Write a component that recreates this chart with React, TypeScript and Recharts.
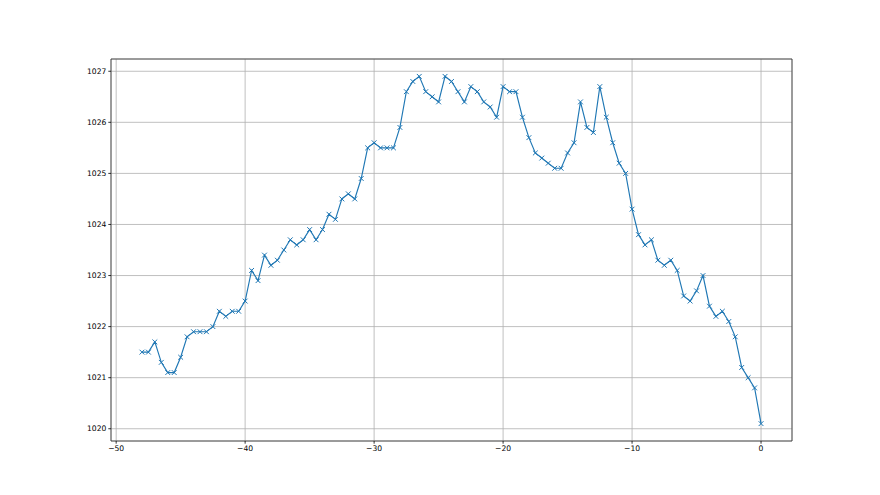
import React from 'react'
import {
  LineChart,
  Line,
  XAxis,
  YAxis,
  CartesianGrid,
  ReferenceArea,
} from 'recharts'

// x positions (hours before now), step 0.5
const hours: number[] = [
  -48, -47.5, -47, -46.5, -46, -45.5, -45, -44.5, -44, -43.5,
  -43, -42.5, -42, -41.5, -41, -40.5, -40, -39.5, -39, -38.5,
  -38, -37.5, -37, -36.5, -36, -35.5, -35, -34.5, -34, -33.5,
  -33, -32.5, -32, -31.5, -31, -30.5, -30, -29.5, -29, -28.5,
  -28, -27.5, -27, -26.5, -26, -25.5, -25, -24.5, -24, -23.5,
  -23, -22.5, -22, -21.5, -21, -20.5, -20, -19.5, -19, -18.5,
  -18, -17.5, -17, -16.5, -16, -15.5, -15, -14.5, -14, -13.5,
  -13, -12.5, -12, -11.5, -11, -10.5, -10, -9.5, -9, -8.5,
  -8, -7.5, -7, -6.5, -6, -5.5, -5, -4.5, -4, -3.5,
  -3, -2.5, -2, -1.5, -1, -0.5, 0,
]

const pressure: number[] = [
  1021.5, 1021.5, 1021.7, 1021.3, 1021.1, 1021.1, 1021.4, 1021.8, 1021.9, 1021.9,
  1021.9, 1022.0, 1022.3, 1022.2, 1022.3, 1022.3, 1022.5, 1023.1, 1022.9, 1023.4,
  1023.2, 1023.3, 1023.5, 1023.7, 1023.6, 1023.7, 1023.9, 1023.7, 1023.9, 1024.2,
  1024.1, 1024.5, 1024.6, 1024.5, 1024.9, 1025.5, 1025.6, 1025.5, 1025.5, 1025.5,
  1025.9, 1026.6, 1026.8, 1026.9, 1026.6, 1026.5, 1026.4, 1026.9, 1026.8, 1026.6,
  1026.4, 1026.7, 1026.6, 1026.4, 1026.3, 1026.1, 1026.7, 1026.6, 1026.6, 1026.1,
  1025.7, 1025.4, 1025.3, 1025.2, 1025.1, 1025.1, 1025.4, 1025.6, 1026.4, 1025.9,
  1025.8, 1026.7, 1026.1, 1025.6, 1025.2, 1025.0, 1024.3, 1023.8, 1023.6, 1023.7,
  1023.3, 1023.2, 1023.3, 1023.1, 1022.6, 1022.5, 1022.7, 1023.0, 1022.4, 1022.2,
  1022.3, 1022.1, 1021.8, 1021.2, 1021.0, 1020.8, 1020.1,
]

const xTicks = [-50, -40, -30, -20, -10, 0]
const yTicks = [1020, 1021, 1022, 1023, 1024, 1025, 1026, 1027]

const data = hours.map((h, i) => ({ h, p: pressure[i] }))

const X_DOMAIN: [number, number] = [-50.4, 2.4]
const Y_DOMAIN: [number, number] = [1019.76, 1027.24]

const fmt = (v: number) => String(v).replace('-', '\u2212')

const Cross = (props: any) => {
  const { cx, cy } = props
  if (cx == null || cy == null) return null
  const s = 2.4
  return (
    <path
      d={`M${cx - s},${cy - s}L${cx + s},${cy + s}M${cx - s},${cy + s}L${cx + s},${cy - s}`}
      stroke='#1f77b4'
      strokeWidth={1}
      fill='none'
    />
  )
}

const tickStyle = { fontSize: 7.6, fill: '#000', fontFamily: 'DejaVu Sans' }

export default function App() {
  return (
    <div style={{ position: 'absolute', left: 0, top: 0, background: '#fff' }}>
      <LineChart
        width={880}
        height={495}
        data={data}
        margin={{ top: 59, right: 88, left: 0, bottom: 0 }}>
        <CartesianGrid stroke='#b0b0b0' strokeWidth={0.8} />
        <XAxis
          dataKey='h'
          type='number'
          domain={X_DOMAIN}
          ticks={xTicks}
          allowDataOverflow
          height={54}
          tickFormatter={fmt}
          tick={tickStyle}
          tickSize={2.7}
          tickLine={{ stroke: '#000', strokeWidth: 0.8 }}
          axisLine={false}
          tickMargin={2}
        />
        <YAxis
          type='number'
          domain={Y_DOMAIN}
          ticks={yTicks}
          allowDataOverflow
          width={111}
          tick={tickStyle}
          tickSize={2.7}
          tickLine={{ stroke: '#000', strokeWidth: 0.8 }}
          axisLine={false}
          tickMargin={2}
        />
        <ReferenceArea
          x1={X_DOMAIN[0]}
          x2={X_DOMAIN[1]}
          y1={Y_DOMAIN[0]}
          y2={Y_DOMAIN[1]}
          fill='none'
          fillOpacity={0}
          stroke='#333'
          strokeWidth={0.8}
          ifOverflow='visible'
        />
        <Line
          dataKey='p'
          stroke='#1f77b4'
          strokeWidth={1.15}
          dot={<Cross />}
          activeDot={false}
          isAnimationActive={false}
        />
      </LineChart>
    </div>
  )
}
